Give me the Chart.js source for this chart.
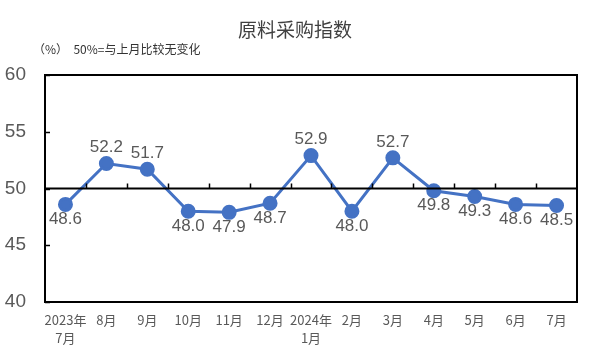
<!DOCTYPE html>
<html><head><meta charset="utf-8">
<script src="https://cdn.jsdelivr.net/npm/chart.js@4/dist/chart.umd.min.js"></script>
<style>html,body{margin:0;padding:0;background:#fff}#w{width:591px;height:354px}</style>
</head><body><div id="w"><canvas id="c"></canvas></div>
<script>
const categories = [['2023年','7月'],'8月','9月','10月','11月','12月',['2024年','1月'],'2月','3月','4月','5月','6月','7月'];
const values = [48.6,52.2,51.7,48.0,47.9,48.7,52.9,48.0,52.7,49.8,49.3,48.6,48.5];
const labelAbove = [false,true,true,false,false,false,true,false,true,false,false,false,false];
const yTicks = [40,45,50,55,60];
const title = '原料采购指数';
const subtitle = '（%）  50%=与上月比较无变化';
const baseline = 50;

const FONT = "'Liberation Sans', Arial, 'Noto Sans CJK SC', sans-serif";
const CJK = "'Noto Sans CJK SC', sans-serif";

const deco = {
  id: 'deco',
  afterDraw(chart) {
    const ctx = chart.ctx, a = chart.chartArea, x = chart.scales.x, y = chart.scales.y;
    ctx.save();
    // title
    ctx.fillStyle = '#404040';
    ctx.font = "19px " + CJK;
    ctx.textAlign = 'center'; ctx.textBaseline = 'middle';
    ctx.fillText(title, 295, 30);
    ctx.font = "12px " + CJK;
    ctx.textAlign = 'left';
    ctx.fillStyle = '#333';
    ctx.fillText(subtitle, 33, 49);
    // box
    ctx.strokeStyle = '#000'; ctx.lineWidth = 2;
    ctx.strokeRect(a.left, a.top, a.right - a.left, a.bottom - a.top);
    // baseline
    const yb = y.getPixelForValue(baseline);
    ctx.beginPath(); ctx.moveTo(a.left, yb); ctx.lineTo(a.right, yb); ctx.stroke();
    // x tick marks on baseline (between categories)
    ctx.lineWidth = 1.5;
    const n = categories.length, w = (a.right - a.left) / n;
    for (let i = 1; i < n; i++) {
      const px = Math.round(a.left + i * w) + 0.5;
      ctx.beginPath(); ctx.moveTo(px, yb); ctx.lineTo(px, yb - 5); ctx.stroke();
    }
    // y tick marks inward
    yTicks.forEach(v => {
      const py = Math.round(y.getPixelForValue(v)) + 0.5;
      ctx.beginPath(); ctx.moveTo(a.left, py); ctx.lineTo(a.left + 5, py); ctx.stroke();
    });
    // data labels
    ctx.font = "17px " + FONT;
    ctx.fillStyle = '#595959';
    ctx.textAlign = 'center'; ctx.textBaseline = 'middle';
    const meta = chart.getDatasetMeta(0);
    meta.data.forEach((pt, i) => {
      const dy = labelAbove[i] ? -16 : 15;
      ctx.fillText(values[i].toFixed(1), pt.x, pt.y + dy);
    });
    ctx.restore();
  }
};

new Chart(document.getElementById('c'), {
  type: 'line',
  data: {
    labels: categories,
    datasets: [{
      data: values,
      borderColor: '#4472C4',
      backgroundColor: '#4472C4',
      borderWidth: 3,
      pointRadius: 6,
      pointBackgroundColor: '#4472C4',
      pointBorderColor: '#4472C4',
      tension: 0
    }]
  },
  options: {
    responsive: true,
    maintainAspectRatio: false,
    animation: false,
    events: [],
    layout: { padding: { top: 75, right: 14, left: 0, bottom: 0 } },
    plugins: { legend: { display: false }, title: { display: false }, tooltip: { enabled: false } },
    scales: {
      x: {
        offset: true,
        grid: { display: false, drawTicks: false },
        border: { display: false },
        ticks: { color: '#595959', font: { size: 13, family: CJK, lineHeight: 1.4 }, padding: 9, maxRotation: 0, autoSkip: false },
        afterFit(s) { s.height = 52; }
      },
      y: {
        min: 40, max: 60,
        grid: { display: false, drawTicks: false },
        border: { display: false },
        ticks: { stepSize: 5, color: '#595959', font: { size: 19, family: FONT }, padding: 19 },
        afterFit(s) { s.width = 45; }
      }
    }
  },
  plugins: [deco]
});
</script>
</body></html>
